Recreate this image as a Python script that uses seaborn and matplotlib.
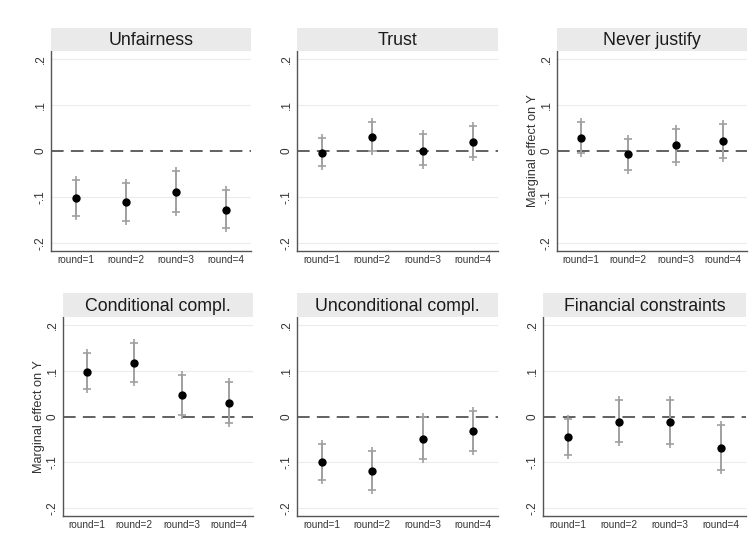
import matplotlib
matplotlib.use("Agg")
import matplotlib.pyplot as plt
import seaborn as sns
import pandas as pd
import numpy as np

sns.set_theme(style="white")
plt.rcParams['font.family'] = ['Liberation Sans', 'DejaVu Sans']

rounds = ["round=1", "round=2", "round=3", "round=4"]
panels = ["Unfairness", "Trust", "Never justify",
          "Conditional compl.", "Unconditional compl.", "Financial constraints"]

est_unfair = [-0.102, -0.111, -0.089, -0.127]
lo_unfair = [-0.140, -0.151, -0.132, -0.167]
hi_unfair = [-0.063, -0.069, -0.043, -0.085]

est_trust = [-0.004, 0.031, 0.001, 0.020]
lo_trust = [-0.033, 0.000, -0.031, -0.012]
hi_trust = [0.028, 0.063, 0.036, 0.055]

est_never = [0.029, -0.007, 0.012, 0.021]
lo_never = [-0.005, -0.041, -0.023, -0.015]
hi_never = [0.063, 0.026, 0.047, 0.058]

est_cond = [0.098, 0.117, 0.047, 0.030]
lo_cond = [0.059, 0.075, 0.004, -0.014]
hi_cond = [0.138, 0.160, 0.091, 0.076]

est_uncond = [-0.099, -0.119, -0.049, -0.032]
lo_uncond = [-0.138, -0.161, -0.092, -0.075]
hi_uncond = [-0.059, -0.076, -0.001, 0.012]

est_fin = [-0.045, -0.011, -0.013, -0.069]
lo_fin = [-0.083, -0.056, -0.061, -0.117]
hi_fin = [-0.005, 0.035, 0.035, -0.018]

ytick_vals = [-0.2, -0.1, 0.0, 0.1, 0.2]
ytick_labels = ["-.2", "-.1", "0", ".1", ".2"]
ylabel_text = "Marginal effect on Y"

series = [(est_unfair, lo_unfair, hi_unfair), (est_trust, lo_trust, hi_trust),
          (est_never, lo_never, hi_never), (est_cond, lo_cond, hi_cond),
          (est_uncond, lo_uncond, hi_uncond), (est_fin, lo_fin, hi_fin)]

W, H = 749, 543
fig = plt.figure(figsize=(W / 100, H / 100), dpi=100)
fig.patch.set_facecolor("white")

cols = [(51, 200), (297, 201), (557, 190), (63, 190), (297, 201), (543, 203)]
rows = [(28, 51, 251), (293, 317, 516)]
show_ylabel = [False, False, True, True, False, False]
narrow = ['Liberation Sans Narrow', 'Liberation Sans', 'DejaVu Sans']
ci_col = "#a0a0a0"

for i, (name, (est, lo, hi)) in enumerate(zip(panels, series)):
    left, width = cols[i]
    st, at, ab = rows[i // 3]
    ax = fig.add_axes([left / W, (H - ab) / H, width / W, (ab - at) / H])
    sax = fig.add_axes([left / W, (H - at) / H, width / W, (at - st) / H])
    sax.set_facecolor("#EAEAEA")
    for s in sax.spines.values():
        s.set_visible(False)
    sax.set_xticks([]); sax.set_yticks([])
    sax.text(0.5, 0.45, name, ha="center", va="center", fontsize=12.8,
             color="#1a1a1a", transform=sax.transAxes)

    df = pd.DataFrame({"pos": np.arange(4), "est": est, "lo": lo, "hi": hi})
    ax.vlines(df["pos"], df["lo"], df["hi"], color=ci_col, lw=1.4, zorder=2)
    ax.plot(df["pos"], df["lo"], ls="none", marker="+", ms=5.5, mew=1.2, color=ci_col, zorder=2)
    ax.plot(df["pos"], df["hi"], ls="none", marker="+", ms=5.5, mew=1.2, color=ci_col, zorder=2)
    sns.scatterplot(data=df, x="pos", y="est", ax=ax, color="black", s=36,
                    edgecolor="black", linewidth=0, zorder=3)
    ax.axhline(0, color="#555555", lw=1.3, ls=(0, (7, 4)), zorder=1)

    ax.set_xlim(-0.5, 3.5)
    ax.set_ylim(-0.217, 0.217)
    ax.set_xticks(range(4))
    ax.set_xticklabels(rounds, fontsize=7.2, color="#333333", family=narrow)
    ax.set_yticks(ytick_vals)
    ax.set_yticklabels(ytick_labels, fontsize=8.5, color="#333333", rotation=90, va="center")
    ax.tick_params(axis="both", length=0, pad=3)
    for y in [-0.2, -0.1, 0.1, 0.2]:
        ax.axhline(y, color="#ececec", lw=0.8, zorder=0)
    ax.grid(False)
    ax.spines["top"].set_visible(False)
    ax.spines["right"].set_visible(False)
    for sp in ["left", "bottom"]:
        ax.spines[sp].set_color("#555555")
        ax.spines[sp].set_linewidth(1.0)
    ax.set_xlabel("")
    if show_ylabel[i]:
        ax.set_ylabel(ylabel_text, fontsize=9.2, color="#333333", labelpad=1)
    else:
        ax.set_ylabel("")

fig.savefig("out.png", dpi=100, facecolor="white")
